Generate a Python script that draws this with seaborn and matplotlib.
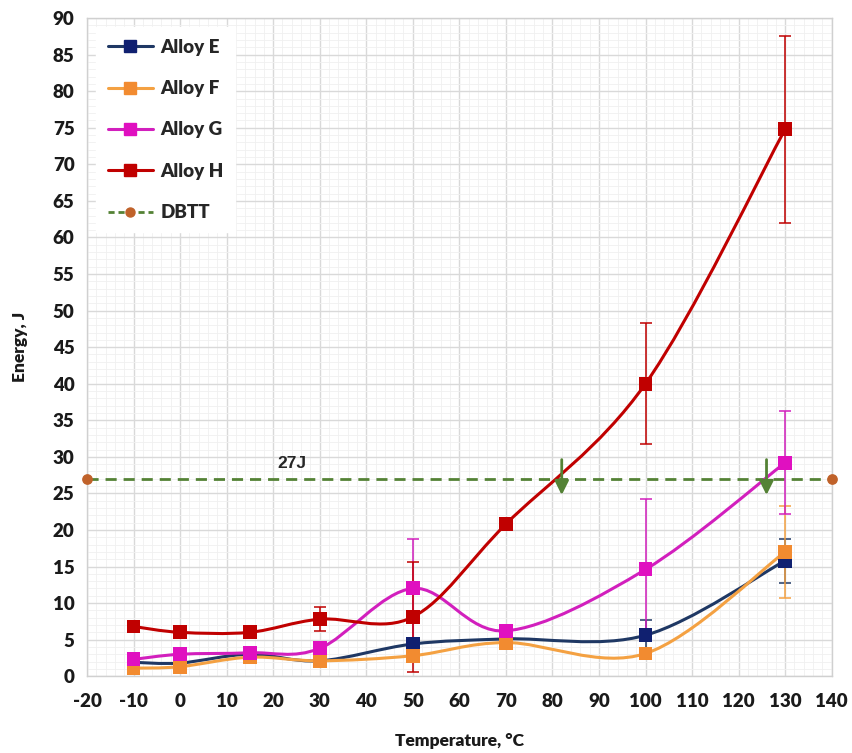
import matplotlib
matplotlib.use("Agg")
import matplotlib.pyplot as plt
from matplotlib.lines import Line2D
from matplotlib.path import Path
from matplotlib.patches import PathPatch
from matplotlib.ticker import MultipleLocator
import numpy as np
import pandas as pd
import seaborn as sns

# Data
temps = [-10, 0, 15, 30, 50, 70, 100, 130]
alloy_e = [1.9, 1.8, 3.0, 2.1, 4.4, 5.1, 5.6, 15.8]
alloy_f = [1.1, 1.3, 2.6, 2.1, 2.8, 4.6, 3.1, 17.0]
alloy_g = [2.3, 3.0, 3.2, 3.8, 12.0, 6.2, 14.6, 29.2]
alloy_h = [6.8, 6.0, 6.0, 7.8, 8.1, 20.8, 40.0, 74.8]

err_e = [0, 0, 0, 0, 0, 0, 2.1, 3.0]
err_f = [0, 0, 0, 0, 0, 0, 0, 6.3]
err_g = [0, 0, 0, 0, 6.8, 0, 9.7, 7.0]
err_h = [0, 0, 0, 1.6, 7.5, 0, 8.3, 12.8]

series_names = ["Alloy E", "Alloy F", "Alloy G", "Alloy H"]
series_vals = [alloy_e, alloy_f, alloy_g, alloy_h]
series_errs = [err_e, err_f, err_g, err_h]

dbtt_energy = 27
dbtt_x = [-20, 140]
dbtt_cross = [82, 126]   # where alloys H and G cross 27 J

line_colors = {"Alloy E": "#1f3864", "Alloy F": "#f4a142",
               "Alloy G": "#d21fbd", "Alloy H": "#c00000"}
marker_colors = {"Alloy E": "#102070", "Alloy F": "#f28b30",
                 "Alloy G": "#e010c0", "Alloy H": "#c00000"}
dbtt_green = "#548235"
dbtt_brown = "#c0622a"

FONT = ["Lato", "DejaVu Sans"]


def smooth_path(x, y):
    """Excel-style smoothed line: cubic Bezier through the points."""
    pts = np.column_stack([x, y]).astype(float)
    n = len(pts)
    verts = [pts[0]]
    codes = [Path.MOVETO]
    for i in range(n - 1):
        p0 = pts[max(i - 1, 0)]
        p1 = pts[i]
        p2 = pts[i + 1]
        p3 = pts[min(i + 2, n - 1)]
        c1 = p1 + (p2 - p0) / 6.0
        c2 = p2 - (p3 - p1) / 6.0
        verts += [c1, c2, p2]
        codes += [Path.CURVE4] * 3
    return Path(verts, codes)


sns.set_theme(style="white")
plt.rcParams["font.family"] = FONT
plt.rcParams["axes.unicode_minus"] = False

df = pd.concat(
    [pd.DataFrame({"Temperature": temps, "Energy": v, "err": e, "Alloy": name})
     for name, v, e in zip(series_names, series_vals, series_errs)],
    ignore_index=True,
)

fig = plt.figure(figsize=(8.53, 7.53), dpi=100)
ax = fig.add_axes([0.102, 0.102, 0.873, 0.874])

# grid
ax.xaxis.set_major_locator(MultipleLocator(10))
ax.xaxis.set_minor_locator(MultipleLocator(2))
ax.yaxis.set_major_locator(MultipleLocator(5))
ax.yaxis.set_minor_locator(MultipleLocator(1))
ax.grid(which="major", color="#d9d9d9", lw=1.0, zorder=0)
ax.grid(which="minor", color="#f0f0f0", lw=0.6, zorder=0)
ax.set_axisbelow(True)

# DBTT line
ax.plot(dbtt_x, [dbtt_energy] * 2, color=dbtt_green, lw=2, ls=(0, (4, 2.5)),
        zorder=2)
ax.scatter(dbtt_x, [dbtt_energy] * 2, color=dbtt_brown, s=45, zorder=6,
           clip_on=False)

# error bars + smoothed lines
for name, vals, errs in zip(series_names, series_vals, series_errs):
    t = np.array(temps)
    e = np.array(errs)
    mask = e > 0
    ax.errorbar(t[mask], np.array(vals)[mask], yerr=e[mask], fmt="none",
                ecolor=line_colors[name], elinewidth=1.1, capsize=4.5,
                capthick=1.1, zorder=3)
    ax.add_patch(PathPatch(smooth_path(temps, vals), fill=False,
                           edgecolor=line_colors[name], lw=2.2, zorder=4))

sns.scatterplot(data=df, x="Temperature", y="Energy", hue="Alloy",
                palette=marker_colors, marker="s", s=100, linewidth=0,
                legend=False, ax=ax, zorder=5)

# crossing arrows
for xc in dbtt_cross:
    ax.annotate("", xy=(xc, 24.4), xytext=(xc, 30.0),
                arrowprops=dict(arrowstyle="-|>,head_width=0.35,head_length=0.7",
                                color=dbtt_green, lw=2), zorder=7)

ax.text(24, 28.0, "27J", ha="center", va="bottom", fontsize=12.5,
        fontweight="bold", family=["Liberation Sans", "DejaVu Sans"])

ax.set_xlim(-20, 140)
ax.set_ylim(0, 90)
ax.set_xticks(np.arange(-20, 141, 10))
ax.set_yticks(np.arange(0, 91, 5))
ax.tick_params(axis="both", which="both", length=0, labelsize=13.5,
               colors="#1a1a1a")
ax.tick_params(axis="x", pad=12)
ax.tick_params(axis="y", pad=9)
for lab in ax.get_xticklabels() + ax.get_yticklabels():
    lab.set_fontweight("heavy")
ax.set_xlabel("Temperature, \u00b0C", fontsize=12.5, fontweight="heavy",
              labelpad=17, color="#1a1a1a")
ax.set_ylabel("Energy, J", fontsize=12.5, fontweight="heavy", labelpad=18,
              color="#1a1a1a")
for sp in ax.spines.values():
    sp.set_color("#d0d0d0")
    sp.set_linewidth(1)

# legend
handles = [Line2D([0], [0], color=line_colors[n], lw=2.2, marker="s",
                  markersize=9, markerfacecolor=marker_colors[n],
                  markeredgecolor=marker_colors[n])
           for n in series_names]
handles.append(Line2D([0], [0], color=dbtt_green, lw=2, ls=(0, (2.2, 1.4)),
                      marker="o", markersize=6.5, markerfacecolor=dbtt_brown,
                      markeredgecolor=dbtt_brown))
leg = ax.legend(handles, series_names + ["DBTT"], loc="upper left",
                bbox_to_anchor=(0.0, 1.0), frameon=True, fancybox=False,
                edgecolor="white", facecolor="white", framealpha=1,
                handlelength=2.4, handletextpad=0.4, labelspacing=1.3,
                borderpad=0.6, prop={"family": FONT, "weight": "heavy",
                                     "size": 13.5})
leg.set_zorder(10)

fig.savefig("out.png", dpi=100)
plt.close(fig)
